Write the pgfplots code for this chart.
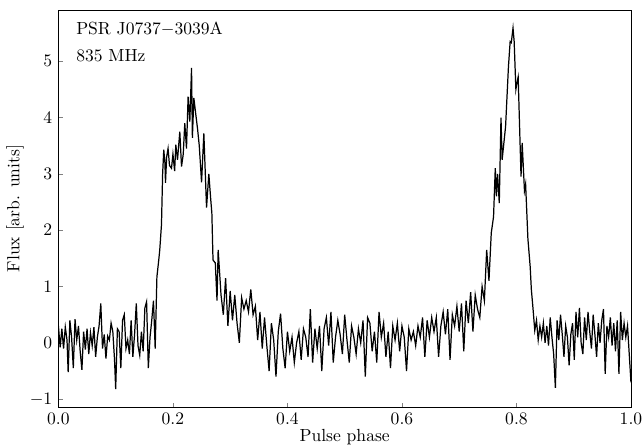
\documentclass[border=0pt]{standalone}
\usepackage{pgfplots}
\pgfplotsset{compat=1.18}

% pulse profile, phase vs flux
\pgfplotstableread{
x y
0.000 0.30
0.003 -0.08
0.006 0.25
0.009 -0.10
0.012 0.28
0.015 0.05
0.017 -0.52
0.020 0.40
0.023 0.10
0.026 -0.45
0.029 0.42
0.032 0.05
0.035 0.30
0.038 -0.15
0.041 -0.48
0.044 0.20
0.047 -0.12
0.050 0.25
0.053 -0.20
0.056 0.18
0.059 -0.05
0.062 0.28
0.065 -0.25
0.068 0.10
0.071 0.30
0.074 0.70
0.077 -0.10
0.080 0.15
0.083 -0.28
0.086 0.12
0.089 0.05
0.092 0.35
0.095 0.20
0.098 -0.30
0.100 -0.82
0.103 0.25
0.106 0.20
0.109 -0.45
0.112 0.40
0.115 0.50
0.118 -0.10
0.121 0.05
0.124 -0.20
0.127 0.40
0.130 -0.25
0.133 0.15
0.136 0.70
0.139 -0.05
0.142 -0.22
0.145 0.20
0.148 -0.15
0.151 0.62
0.154 0.73
0.157 -0.45
0.160 0.10
0.163 0.40
0.166 0.75
0.169 -0.10
0.172 1.17
0.175 1.45
0.177 1.65
0.180 2.10
0.182 3.00
0.184 3.43
0.186 3.20
0.187 2.84
0.189 3.30
0.1915 3.45
0.194 3.15
0.1975 3.10
0.200 3.35
0.203 3.05
0.205 3.52
0.208 3.25
0.212 3.75
0.215 3.13
0.218 3.35
0.2207 3.90
0.2237 3.45
0.2265 4.37
0.2295 3.93
0.2325 4.88
0.234 3.64
0.2365 4.35
0.240 4.05
0.243 3.80
0.246 3.50
0.250 2.85
0.254 3.72
0.2587 2.40
0.2627 3.00
0.266 2.55
0.268 2.30
0.270 1.47
0.274 1.42
0.277 0.75
0.279 1.65
0.284 0.85
0.288 0.50
0.292 1.15
0.296 0.30
0.300 0.92
0.304 0.40
0.308 0.85
0.312 0.35
0.316 0.00
0.320 0.80
0.324 0.60
0.328 0.75
0.332 0.55
0.336 0.95
0.340 0.50
0.344 0.65
0.348 0.05
0.352 0.55
0.356 -0.10
0.360 0.45
0.364 -0.05
0.368 -0.50
0.372 0.35
0.376 0.05
0.380 -0.60
0.384 0.20
0.388 0.52
0.392 -0.10
0.396 -0.45
0.400 0.20
0.404 -0.15
0.408 0.10
0.412 -0.35
0.416 0.00
0.420 0.20
0.424 -0.30
0.428 0.25
0.432 0.10
0.436 -0.25
0.440 0.60
0.444 -0.35
0.448 0.25
0.452 -0.10
0.456 0.30
0.460 -0.50
0.464 0.25
0.468 0.45
0.472 -0.05
0.476 0.55
0.480 -0.35
0.484 0.10
0.488 0.40
0.492 0.15
0.496 -0.20
0.500 0.50
0.504 0.05
0.508 -0.35
0.512 0.30
0.516 0.10
0.520 -0.20
0.524 0.25
0.528 0.00
0.532 0.40
0.536 -0.60
0.540 0.45
0.544 0.35
0.548 -0.15
0.552 0.20
0.556 -0.35
0.560 0.55
0.564 0.10
0.568 0.35
0.572 -0.25
0.576 0.20
0.580 -0.45
0.584 0.30
0.588 0.05
0.592 0.35
0.596 -0.15
0.600 0.30
0.604 0.10
0.608 -0.50
0.612 0.25
0.616 0.05
0.620 0.20
0.624 -0.05
0.628 0.30
0.632 0.10
0.636 0.45
0.640 -0.25
0.644 0.40
0.648 0.10
0.652 0.45
0.656 0.20
0.660 0.45
0.664 -0.25
0.668 0.30
0.672 0.55
0.676 0.15
0.680 0.60
0.684 -0.30
0.688 0.50
0.692 0.30
0.696 0.65
0.700 0.20
0.704 0.70
0.708 -0.15
0.712 0.75
0.716 0.35
0.720 0.90
0.724 0.20
0.728 0.85
0.732 0.60
0.736 0.45
0.740 1.00
0.744 0.75
0.748 1.65
0.752 1.10
0.756 1.95
0.760 2.24
0.763 3.10
0.765 2.60
0.767 3.00
0.770 2.48
0.773 4.00
0.775 3.25
0.781 3.84
0.786 4.90
0.789 5.35
0.791 5.33
0.794 5.59
0.796 5.35
0.799 4.50
0.801 4.62
0.803 4.72
0.808 2.95
0.810 3.55
0.814 2.70
0.816 2.82
0.820 1.85
0.824 1.35
0.826 0.95
0.829 0.60
0.832 0.22
0.835 0.40
0.838 0.05
0.841 0.30
0.844 0.10
0.847 0.35
0.850 0.00
0.853 0.30
0.856 -0.05
0.859 0.45
0.862 0.10
0.865 -0.20
0.868 -0.80
0.871 0.40
0.874 0.05
0.877 0.50
0.880 0.15
0.883 -0.25
0.886 0.30
0.889 0.10
0.892 -0.40
0.895 0.15
0.898 0.35
0.901 -0.30
0.904 0.55
0.907 0.10
0.910 0.62
0.913 0.00
0.916 -0.20
0.919 0.45
0.922 0.05
0.925 0.55
0.928 0.20
0.931 -0.10
0.934 0.50
0.937 0.15
0.940 -0.25
0.943 0.35
0.946 0.00
0.949 0.40
0.952 0.60
0.955 -0.55
0.958 0.30
0.961 0.10
0.964 0.45
0.967 -0.05
0.970 0.35
0.973 -0.15
0.976 0.40
0.979 -0.55
0.982 0.55
0.985 0.05
0.988 0.35
0.991 0.10
0.994 0.30
0.997 -0.20
1.000 -0.70
}\profile

\begin{document}
\begin{tikzpicture}
\useasboundingbox (-33.3pt,-22.2pt) rectangle (332.6pt,232.0pt);
\begin{axis}[
    at={(0,0)}, anchor=south west,
    scale only axis,
    width=326.3pt, height=226.3pt,
    xmin=0, xmax=1,
    ymin=-1.14, ymax=5.91,
    xtick={0,0.2,0.4,0.6,0.8,1},
    ytick={-1,0,1,2,3,4,5},
    xticklabel style={/pgf/number format/.cd, fixed, fixed zerofill, precision=1},
    tick align=inside,
    xtick pos=left, ytick pos=left,
    major tick length=2.5pt,
    axis line style={line width=0.5pt},
    xlabel={Pulse phase},
    ylabel={Flux [arb. units]},
    xlabel style={at={(axis description cs:0.5,0)}, anchor=base, yshift=-19.4pt},
    ylabel style={at={(axis description cs:-0.076,0.5)}, anchor=center},
  ]
  \addplot[black, line width=0.7pt, mark=none] table[x=x, y=y] {\profile};
  \node[anchor=base west, inner sep=0pt] at (axis description cs:0.0306,0.939) {PSR J0737$-$3039A};
  \node[anchor=base west, inner sep=0pt] at (axis description cs:0.0306,0.870) {835 MHz};
\end{axis}
\end{tikzpicture}
\end{document}
